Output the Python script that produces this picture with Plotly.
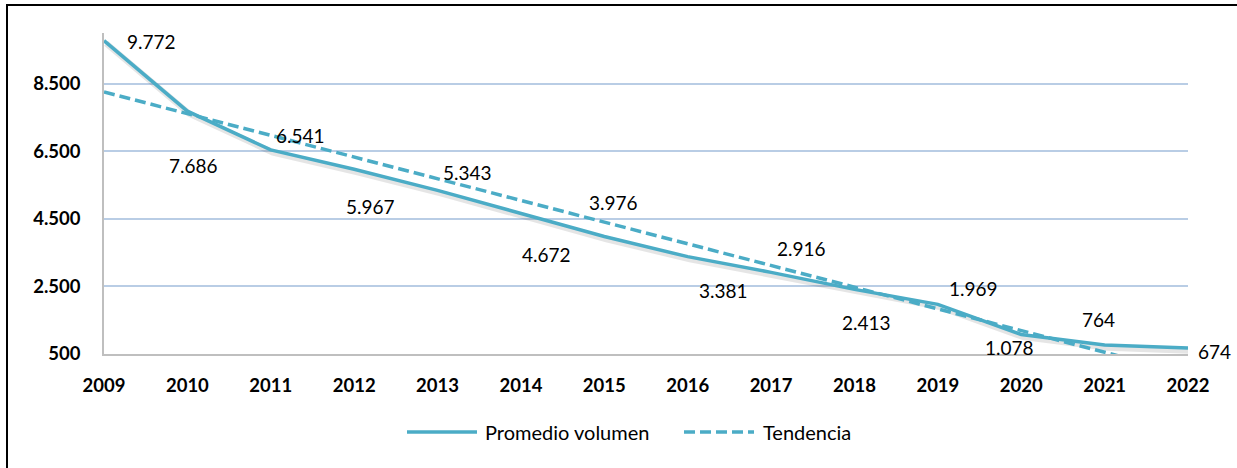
import numpy as np
import plotly.graph_objects as go

# ---- data ----
years = ["2009", "2010", "2011", "2012", "2013", "2014", "2015",
         "2016", "2017", "2018", "2019", "2020", "2021", "2022"]
promedio_volumen = [9772, 7686, 6541, 5967, 5343, 4672, 3976,
                    3381, 2916, 2413, 1969, 1078, 764, 674]
value_labels = ["9.772", "7.686", "6.541", "5.967", "5.343", "4.672", "3.976",
                "3.381", "2.916", "2.413", "1.969", "1.078", "764", "674"]
y_tick_values = [500, 2500, 4500, 6500, 8500]
y_tick_labels = ["500", "2.500", "4.500", "6.500", "8.500"]
series_names = ["Promedio volumen", "Tendencia"]

# label offsets in pixels (dx right, dy down) as placed in the original
label_offsets = [(47, 1), (6, 54), (30, -14), (16, 37), (30, -18), (26, 41), (9, -34),
                 (36, 34), (30, -24), (12, 33), (36, -16), (-12, 13), (-6, -26), (26, 3)]

COLOR = "#4BACC6"
FONT = "Lato"

# x positions as category indices
xi = np.arange(len(years))
# linear trend (least squares) of the series
slope, intercept = np.polyfit(xi, np.array(promedio_volumen, dtype=float), 1)
trend = (intercept + slope * xi).tolist()

fig = go.Figure()

# soft shadow under the main line
fig.add_trace(go.Scatter(
    x=(xi + 0.025).tolist(), y=[v - 80 for v in promedio_volumen], mode="lines",
    line=dict(color="rgba(0,0,0,0.10)", width=6), hoverinfo="skip", showlegend=False))

fig.add_trace(go.Scatter(
    x=xi.tolist(), y=promedio_volumen, mode="lines", name=series_names[0],
    line=dict(color=COLOR, width=3.5), showlegend=False))

fig.add_trace(go.Scatter(
    x=xi.tolist(), y=trend, mode="lines", name=series_names[1],
    line=dict(color=COLOR, width=3.5, dash="11px,5px"), showlegend=False))

annotations = []
for i, (lab, val) in enumerate(zip(value_labels, promedio_volumen)):
    dx, dy = label_offsets[i]
    annotations.append(dict(
        x=i, y=val, xref="x", yref="y", text=lab, showarrow=False,
        xshift=dx, yshift=-dy, font=dict(family=FONT, size=19, color="#000000")))

# plot area geometry (pixels) for paper conversions
W, H = 1237, 468
ML, MR, MT, MB = 104, 49, 33, 114
PW, PH = W - ML - MR, H - MT - MB


def px(xp):
    return (xp - ML) / PW


def py(yp):
    return (H - MB - yp) / PH


shapes = []
# outer frame (top and left edges visible)
shapes.append(dict(type="rect", xref="paper", yref="paper",
                   x0=px(7), x1=px(1300), y0=py(600), y1=py(5),
                   line=dict(color="#000000", width=2), fillcolor="rgba(0,0,0,0)", layer="above"))

# custom legend
leg_y = py(432)
shapes.append(dict(type="line", xref="paper", yref="paper",
                   x0=px(407), x1=px(477), y0=leg_y, y1=leg_y,
                   line=dict(color=COLOR, width=3.5)))
shapes.append(dict(type="line", xref="paper", yref="paper",
                   x0=px(684), x1=px(754), y0=leg_y, y1=leg_y,
                   line=dict(color=COLOR, width=3.5, dash="11px,5px")))
annotations.append(dict(x=px(483), y=leg_y, xref="paper", yref="paper", text=series_names[0],
                        showarrow=False, xanchor="left", yanchor="middle",
                        font=dict(family=FONT, size=20, color="#000000")))
annotations.append(dict(x=px(761), y=leg_y, xref="paper", yref="paper", text=series_names[1],
                        showarrow=False, xanchor="left", yanchor="middle",
                        font=dict(family=FONT, size=20, color="#000000")))

fig.update_layout(
    width=W, height=H,
    margin=dict(l=ML, r=MR, t=MT, b=MB),
    paper_bgcolor="white", plot_bgcolor="white",
    showlegend=False,
    annotations=annotations, shapes=shapes,
    xaxis=dict(
        range=[0, len(years) - 1], tickmode="array", tickvals=xi.tolist(), ticktext=years,
        showgrid=False, zeroline=False, showline=True, linecolor="#BFBFBF", linewidth=1.5,
        ticks="", ticklabelstandoff=14,
        tickfont=dict(family=FONT, size=18.5, color="#000000", weight="bold")),
    yaxis=dict(
        range=[500, 10000], tickmode="array", tickvals=y_tick_values, ticktext=y_tick_labels,
        showgrid=True, gridcolor="#B9CDE5", gridwidth=1.5, zeroline=False,
        showline=True, linecolor="#BFBFBF", linewidth=1.5, ticks="", ticklabelstandoff=18,
        tickfont=dict(family=FONT, size=18.5, color="#000000", weight="bold")),
)

fig.write_html(
    "out.html",
    config={"displayModeBar": False},
    post_script="document.body.style.margin='0';document.body.style.overflow='hidden';",
)
